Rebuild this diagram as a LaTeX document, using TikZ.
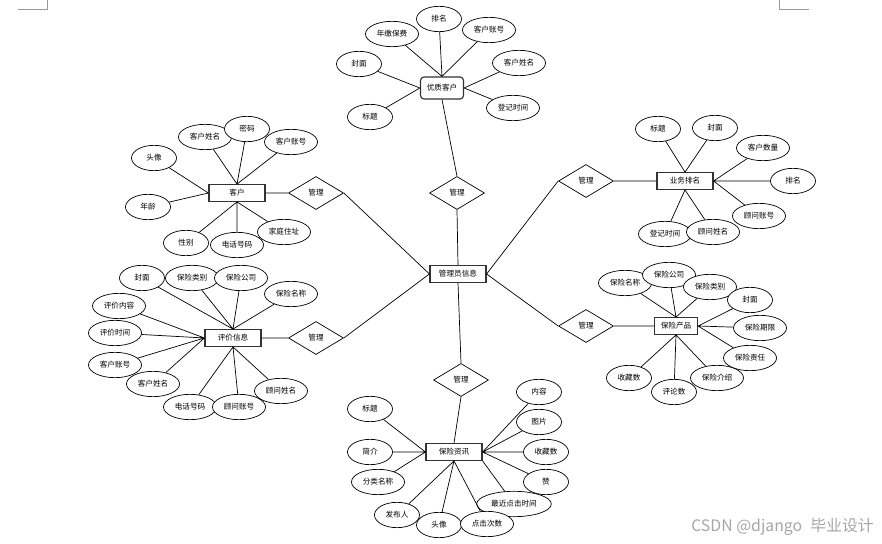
\documentclass[tikz,border=0pt]{standalone}
\usepackage{fontspec}
\setmainfont{Noto Sans CJK SC}
\usepackage{tikz}
\usetikzlibrary{shapes.geometric}

\tikzset{
  entity/.style={draw=black!80, line width=1pt, fill=white, minimum width=1.68cm, minimum height=0.5cm, inner sep=1pt},
  attr/.style={draw, ellipse, fill=white, line width=0.6pt, minimum width=1.35cm, minimum height=0.76cm, inner xsep=3pt, inner ysep=1pt},
  rel/.style={draw, diamond, fill=white, line width=0.6pt, minimum width=1.65cm, minimum height=0.99cm, inner sep=0pt},
}

\begin{document}
\begin{tikzpicture}[x=0.03cm, y=-0.03cm, line width=0.6pt, font=\fontsize{6.5}{7}\selectfont]
                \useasboundingbox (0,0) rectangle (882,544);

                % Page corner marks
                \draw[black!40, line width=0.5pt] (18,9) -- (47,9) -- (47,0);
                \draw[black!40, line width=0.5pt] (779,0) -- (779,9) -- (809,9);

                % Centre entity and relations
                \node[entity] (gly) at (458,274) {管理员信息};
                \node[rel] (g1) at (316,193) {管理};
                \node[rel] (g2) at (316,338) {管理};
                \node[rel] (g3) at (457,193) {管理};
                \node[rel] (g4) at (461,380) {管理};
                \node[rel] (g5) at (586,181) {管理};
                \node[rel] (g6) at (586,326) {管理};

                % 优质客户
                \node[entity, rounded corners=3pt, minimum width=1.29cm, minimum height=0.66cm] (yz) at (442,88) {优质客户};
                \node[attr] (yz1) at (392,34) {年缴保费};
                \node[attr] (yz2) at (439,19) {排名};
                \node[attr] (yz3) at (489,30) {客户账号};
                \node[attr] (yz4) at (519,63) {客户姓名};
                \node[attr] (yz5) at (513,108) {登记时间};
                \node[attr] (yz6) at (359,64) {封面};
                \node[attr] (yz7) at (370,117) {标题};
                \draw (yz.north) -- (yz1) (yz.north) -- (yz2) (yz.north) -- (yz3);
                \draw (yz.west) -- (yz6) (yz.west) -- (yz7);
                \draw (yz.east) -- (yz4) (yz.east) -- (yz5);

                % 客户
                \node[entity] (kh) at (237,193) {客户};
                \node[attr] (kh1) at (154,158) {头像};
                \node[attr] (kh2) at (205,137) {客户姓名};
                \node[attr] (kh3) at (247,129) {密码};
                \node[attr] (kh4) at (291,142) {客户账号};
                \node[attr] (kh5) at (148,207) {年龄};
                \node[attr] (kh6) at (186,243) {性别};
                \node[attr] (kh7) at (237,245) {电话号码};
                \node[attr] (kh8) at (284,232) {家庭住址};
                \draw (kh.north) -- (kh2) (kh.north) -- (kh3) (kh.north) -- (kh4);
                \draw (kh.west) -- (kh1) (kh.west) -- (kh5);
                \draw (kh.south) -- (kh6) (kh.south) -- (kh7) (kh.south) -- (kh8);

                % 评价信息
                \node[entity] (pj) at (233,338) {评价信息};
                \node[attr] (pj1) at (142,278) {封面};
                \node[attr] (pj2) at (192,278) {保险类别};
                \node[attr] (pj3) at (241,278) {保险公司};
                \node[attr] (pj4) at (291,294) {保险名称};
                \node[attr] (pj5) at (119,306) {评价内容};
                \node[attr] (pj6) at (115,333) {评价时间};
                \node[attr] (pj7) at (115,365) {客户账号};
                \node[attr] (pj8) at (153,384) {客户姓名};
                \node[attr] (pj9) at (190,407) {电话号码};
                \node[attr] (pj10) at (239,407) {顾问账号};
                \node[attr] (pj11) at (281,391) {顾问姓名};
                \draw (pj.north) -- (pj1) (pj.north) -- (pj2) (pj.north) -- (pj3) (pj.north) -- (pj4);
                \draw (pj.west) -- (pj5) (pj.west) -- (pj6) (pj.west) -- (pj7) (pj.west) -- (pj8);
                \draw (pj.south) -- (pj9) (pj.south) -- (pj10) (pj.south) -- (pj11);

                % 业务排名
                \node[entity] (yw) at (685,181) {业务排名};
                \node[attr] (yw1) at (658,129) {标题};
                \node[attr] (yw2) at (715,128) {封面};
                \node[attr] (yw3) at (763,148) {客户数量};
                \node[attr] (yw4) at (793,181) {排名};
                \node[attr] (yw5) at (759,216) {顾问账号};
                \node[attr] (yw6) at (665,234) {登记时间};
                \node[attr] (yw7) at (713,232) {顾问姓名};
                \draw (yw.north) -- (yw1) (yw.north) -- (yw2);
                \draw (yw.east) -- (yw3) (yw.east) -- (yw4) (yw.east) -- (yw5);
                \draw (yw.south) -- (yw6) (yw.south) -- (yw7);

                % 保险产品
                \node[entity, minimum width=1.29cm] (cp) at (676,326) {保险产品};
                \node[attr] (cp1) at (625,283) {保险名称};
                \node[attr] (cp2) at (669,275) {保险公司};
                \node[attr] (cp3) at (710,287) {保险类别};
                \node[attr] (cp4) at (750,300) {封面};
                \node[attr] (cp5) at (760,328) {保险期限};
                \node[attr] (cp6) at (750,358) {保险责任};
                \node[attr] (cp8) at (674,392) {评论数};
                \node[attr] (cp7) at (717,378) {保险介绍};
                \node[attr] (cp9) at (629,378) {收藏数};
                \draw (cp.north) -- (cp1) (cp.north) -- (cp2) (cp.north) -- (cp3);
                \draw (cp.east) -- (cp4) (cp.east) -- (cp5) (cp.east) -- (cp6);
                \draw (cp.south) -- (cp7) (cp.south) -- (cp8) (cp.south) -- (cp9);

                % 保险资讯
                \node[entity] (zx) at (454,452) {保险资讯};
                \node[attr] (zx1) at (370,409) {标题};
                \node[attr] (zx2) at (370,452) {简介};
                \node[attr] (zx3) at (378,482) {分类名称};
                \node[attr] (zx4) at (397,515) {发布人};
                \node[attr] (zx5) at (439,525) {头像};
                \node[attr] (zx6) at (514,504) {最近点击时间};
                \node[attr] (zx7) at (487,524) {点击次数};
                \node[attr] (zx8) at (546,482) {赞};
                \node[attr] (zx9) at (546,452) {收藏数};
                \node[attr] (zx10) at (539,422) {图片};
                \node[attr] (zx11) at (539,392) {内容};
                \draw (zx.west) -- (zx1) (zx.west) -- (zx2) (zx.west) -- (zx3);
                \draw (zx.south) -- (zx4) (zx.south) -- (zx5) (zx.south) -- (zx7);
                \draw (zx.south east) -- (zx6);
                \draw (zx.east) -- (zx8) (zx.east) -- (zx9) (zx.east) -- (zx10) (zx.east) -- (zx11);

                % Relations
                \draw (kh.east) -- (g1.west) (g1.east) -- (gly.west);
                \draw (pj.east) -- (g2.west) (g2.east) -- (gly.west);
                \draw (yz.south) -- (g3.north) (g3.south) -- (gly.north);
                \draw (gly.south) -- (g4.north) (g4.south) -- (zx.north);
                \draw (gly.east) -- (g5.west) (g5.east) -- (yw.west);
                \draw (gly.east) -- (g6.west) (g6.east) -- (cp.west);

                % Watermark
                \node[anchor=east, text=black!35, font=\fontsize{13.5}{15}\selectfont] (wm) at (878,527) {CSDN @django\hspace{0.3em} 毕业设计};
            \end{tikzpicture}
\end{document}
